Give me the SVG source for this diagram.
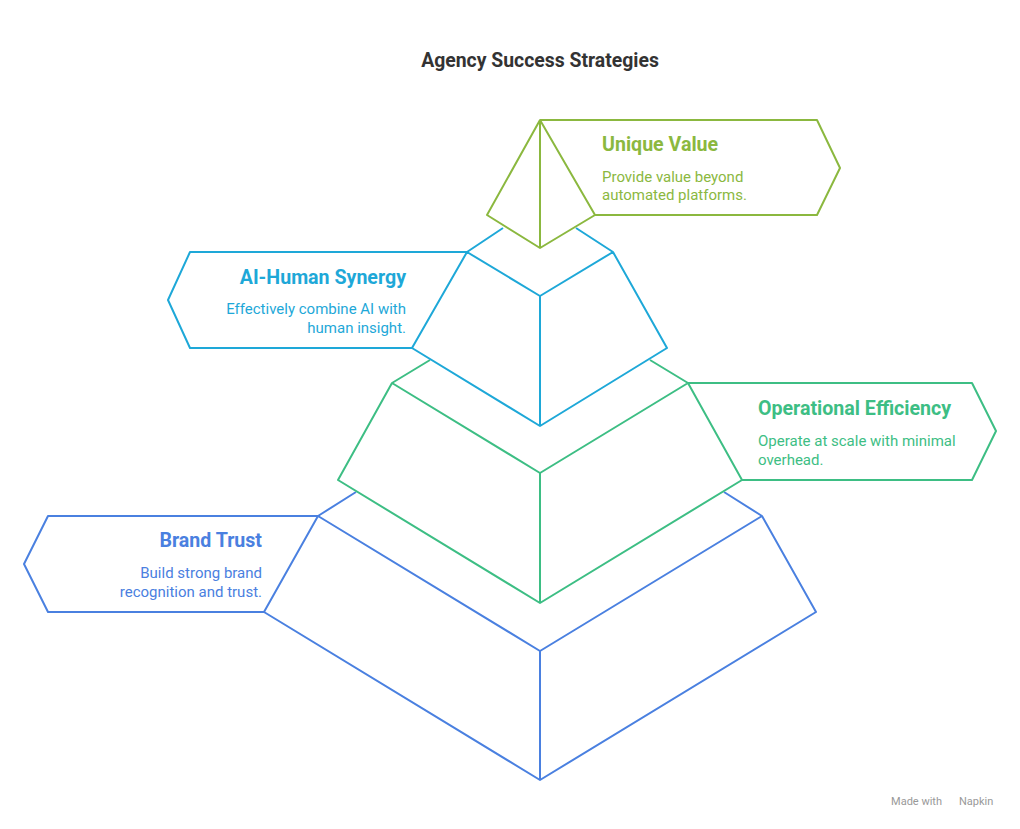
<svg xmlns="http://www.w3.org/2000/svg" width="1020" height="829" viewBox="0 0 1020 829">
<style>
.s{fill:none;stroke-width:2;stroke-linejoin:round}
.t{font-family:Roboto,"Liberation Sans",sans-serif;font-weight:bold;font-size:19.6px}
.b{font-family:Roboto,"Liberation Sans",sans-serif;font-size:15px}
</style>
<rect width="1020" height="829" fill="#fff"/>
<text x="540" y="67" text-anchor="middle" font-family="Roboto,'Liberation Sans',sans-serif" font-weight="bold" font-size="19.4" fill="#333">Agency Success Strategies</text>
<g id="brand-trust" stroke="#4A80E0" class="s">
<path class="s" d="M356,492 L318,516 L264,612 L540,780 L816,612 L762,516 L724,492 M318,516 L540,651 L762,516 M540,651 V780 M318,516 H48 L24,564 L48,612 H264"/>
<text x="262" y="547" text-anchor="end" class="t" fill="#4A80E0" stroke="none">Brand Trust</text>
<text x="262" y="578" text-anchor="end" class="b" fill="#4A80E0" stroke="none">Build strong brand</text>
<text x="262" y="597" text-anchor="end" class="b" fill="#4A80E0" stroke="none">recognition and trust.</text>
</g>
<g id="operational-efficiency" stroke="#3DBE84" class="s">
<path class="s" d="M430,360 L392,383 L338,480 L540,603 L742,480 L688,383 L650,360 M392,383 L540,473 L688,383 M540,473 V603 M688,383 H972 L996,431 L972,480 H742"/>
<text x="758" y="415" class="t" fill="#3DBE84" stroke="none">Operational Efficiency</text>
<text x="758" y="446" class="b" fill="#3DBE84" stroke="none">Operate at scale with minimal</text>
<text x="758" y="465" class="b" fill="#3DBE84" stroke="none">overhead.</text>
</g>
<g id="ai-human-synergy" stroke="#1EA8D8" class="s">
<path class="s" d="M503,228 L467,252 L412,348 L540,426 L667,348 L613,252 L576,228 M467,252 L540,296 L613,252 M540,296 V426 M467,252 H190 L168,300 L190,348 H412"/>
<text x="406" y="284" text-anchor="end" class="t" fill="#1EA8D8" stroke="none">AI-Human Synergy</text>
<text x="406" y="314" text-anchor="end" class="b" fill="#1EA8D8" stroke="none">Effectively combine AI with</text>
<text x="406" y="333" text-anchor="end" class="b" fill="#1EA8D8" stroke="none">human insight.</text>
</g>
<g id="unique-value" stroke="#8BB83F" class="s">
<path class="s" d="M540,120 L487,215 L540,248 L595,215 Z M540,120 V248 M540,120 H817 L840,168 L817,215 H595"/>
<text x="602" y="151" class="t" fill="#8BB83F" stroke="none">Unique Value</text>
<text x="602" y="182" class="b" fill="#8BB83F" stroke="none">Provide value beyond</text>
<text x="602" y="200" class="b" fill="#8BB83F" stroke="none">automated platforms.</text>
</g>
<text x="942" y="805" text-anchor="end" font-family="Roboto,'Liberation Sans',sans-serif" font-size="11" fill="#999">Made with</text>
<text x="959" y="805" font-family="Roboto,'Liberation Sans',sans-serif" font-size="11" fill="#999">Napkin</text>
</svg>
